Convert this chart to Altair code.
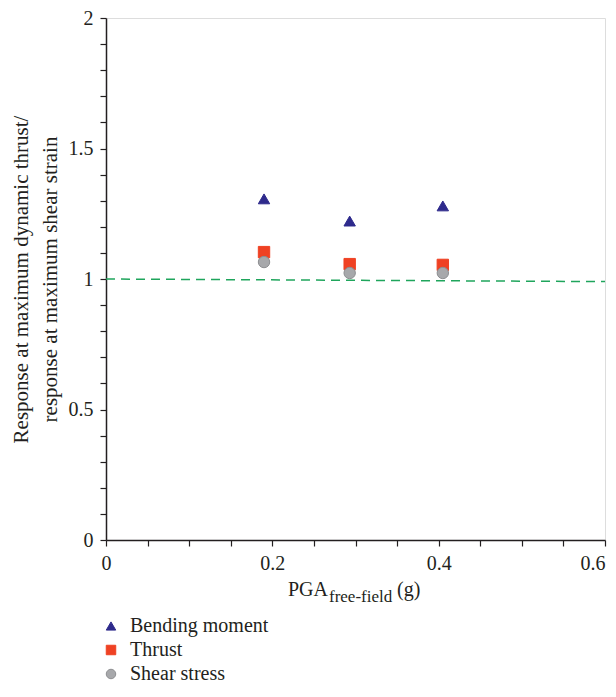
import altair as alt
import pandas as pd

# Data
pga = [0.190, 0.293, 0.405]
bending = [1.307, 1.222, 1.280]
thrust = [1.103, 1.057, 1.054]
shear = [1.065, 1.023, 1.023]
series_names = ["Bending moment", "Thrust", "Shear stress"]
ref_x = [0.0, 0.6]
ref_y = [1.0, 0.99]

rows = []
for name, vals in zip(series_names, [bending, thrust, shear]):
    for x, y in zip(pga, vals):
        rows.append({"pga": x, "ratio": y, "series": name})
df = pd.DataFrame(rows)
ref_df = pd.DataFrame({"pga": ref_x, "ratio": ref_y})

FONT = "Liberation Serif"
W, H = 499, 522

xscale = alt.Scale(domain=[0, 0.6], nice=False, zero=False)
yscale = alt.Scale(domain=[0, 2], nice=False, zero=False)

x_ticks = [round(i * 0.05, 2) for i in range(13)]
y_ticks = [round(i * 0.1, 1) for i in range(21)]

xaxis = alt.Axis(values=x_ticks, format=".1~f", grid=False, title=None,
                 labelExpr="abs(round(datum.value*100) % 20) < 0.5 ? datum.label : ''",
                 labelAlign={"condition": {"test": "datum.value >= 0.59", "value": "right"}, "value": "center"},
                 labelOverlap=False, labelBound=False, labelFlush=False,
                 tickSize=6, labelPadding=7, labelFontSize=20, labelFont=FONT,
                 labelColor="#231f20", tickColor="#231f20", domainColor="#231f20",
                 domainWidth=1.5, tickWidth=1.2)
yaxis = alt.Axis(values=y_ticks, format=".1~f", grid=False,
                 title=["Response at maximum dynamic thrust/", "response at maximum shear strain"],
                 labelExpr="abs(round(datum.value*10) % 5) < 0.5 ? datum.label : ''",
                 labelOverlap=False, labelBound=False, labelFlush=False,
                 tickSize=6, labelPadding=7, labelFontSize=20, labelFont=FONT,
                 titleFont=FONT, titleFontSize=21, titleFontWeight="normal",
                 titleColor="#231f20", titlePadding=8, titleLineHeight=29,
                 labelColor="#231f20", tickColor="#231f20", domainColor="#231f20",
                 domainWidth=1.5, tickWidth=1.2)

legend = alt.Legend(orient="none", legendX=-5, legendY=598, padding=0, title=None,
                    labelFont=FONT, labelFontSize=20, labelColor="#231f20",
                    symbolSize=90, labelOffset=9, rowPadding=4, symbolStrokeWidth=1)

points = alt.Chart(df).mark_point(filled=True, opacity=1, size=130, strokeWidth=1).encode(
    x=alt.X("pga:Q", scale=xscale, axis=xaxis),
    y=alt.Y("ratio:Q", scale=yscale, axis=yaxis),
    shape=alt.Shape("series:N", sort=series_names, legend=legend,
                    scale=alt.Scale(domain=series_names, range=["triangle-up", "square", "circle"])),
    fill=alt.Fill("series:N", sort=series_names, legend=legend,
                  scale=alt.Scale(domain=series_names, range=["#2e2a8c", "#ef4123", "#a7a8ab"])),
    stroke=alt.Stroke("series:N", sort=series_names, legend=legend,
                      scale=alt.Scale(domain=series_names, range=["#2e2a8c", "#ef4123", "#8d8e91"])),
)

ref_line = alt.Chart(ref_df).mark_line(color="#1fa55c", strokeDash=[9, 6], strokeWidth=1.5).encode(
    x=alt.X("pga:Q", scale=xscale, axis=xaxis),
    y=alt.Y("ratio:Q", scale=yscale, axis=yaxis),
)

title_df = pd.DataFrame({"t": ["PGA"]})
t_main = alt.Chart(title_df).mark_text(font=FONT, fontSize=20, align="right", baseline="alphabetic",
                                       color="#231f20").encode(
    text="t:N", x=alt.value(222), y=alt.value(578))
sub_df = pd.DataFrame({"t": ["free-field"]})
t_sub = alt.Chart(sub_df).mark_text(font=FONT, fontSize=17, align="left", baseline="alphabetic",
                                    color="#231f20").encode(
    text="t:N", x=alt.value(223), y=alt.value(584))
g_df = pd.DataFrame({"t": ["(g)"]})
t_g = alt.Chart(g_df).mark_text(font=FONT, fontSize=20, align="left", baseline="alphabetic",
                                color="#231f20").encode(
    text="t:N", x=alt.value(291), y=alt.value(578))

chart = alt.layer(ref_line, points, t_main, t_sub, t_g).properties(
    width=W, height=H,
    autosize=alt.AutoSizeParams(type="none"),
    padding={"left": 98, "top": 10, "right": 3, "bottom": 145},
).configure_view(
    stroke="#231f20", strokeWidth=1.5
).configure(background="white")

chart.save("out.html", embed_options={"renderer": "svg", "actions": False})
